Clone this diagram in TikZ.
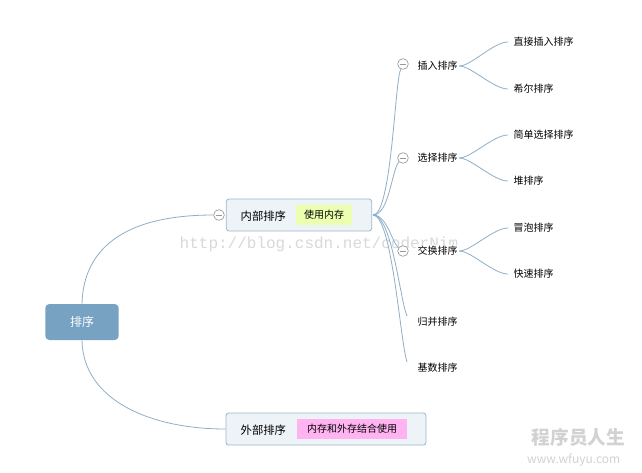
\documentclass[tikz,border=0pt]{standalone}
\usepackage{fontspec}
\setmainfont{Noto Sans CJK SC}
\newfontfamily\mono{Liberation Mono}
\begin{document}
\begin{tikzpicture}[x=0.75pt,y=-0.75pt,
  lnk/.style={draw=lnkc,line width=0.6pt},
  col/.style={circle,draw=gray!80,fill=white,inner sep=0pt,minimum size=8pt,line width=0.5pt},
  lbl/.style={font=\fontsize{7.5}{9}\selectfont,anchor=west,inner sep=1pt,fill=white},
  box/.style={draw=boxb,fill=boxf,rounded corners=2pt,line width=0.6pt},
  tag/.style={font=\fontsize{7.5}{9}\selectfont,inner sep=0pt,minimum height=15pt}]
\definecolor{lnkc}{HTML}{8EAFC8}
\definecolor{boxb}{HTML}{9AB8CC}
\definecolor{boxf}{HTML}{EEF3F7}
\definecolor{rootc}{HTML}{77A2C2}
\definecolor{tagg}{HTML}{EAFFB0}
\definecolor{tagp}{HTML}{FFB3F0}
\useasboundingbox[fill=white] (0,0) rectangle (642,472);
% watermarks
\node[anchor=west,text=gray!30,font=\mono\fontsize{12}{12}\selectfont] (wm) at (175,244) {http://blog.csdn.net/coderNim};
\node[anchor=east,text=gray!35,font=\bfseries\fontsize{14}{14}\selectfont] (wm2) at (630,437) {程序员人生};
\node[anchor=east,text=gray!35,font=\fontsize{9}{9}\selectfont] (wm3) at (625,460) {www.wfuyu.com};
% root
\node[fill=rootc,rounded corners=3pt,minimum width=55pt,minimum height=27pt,text=white,font=\fontsize{9}{10}\selectfont] (root) at (82,322) {排序};
% internal
\node[box,minimum width=109pt,minimum height=24pt] (in) at (299,215) {};
\node[font=\fontsize{8.5}{10}\selectfont,anchor=west] (inl) at (236,216) {内部排序};
\node[tag,fill=tagg,minimum width=42pt] (intag) at (324,215) {使用内存};
\node[box,minimum width=150pt,minimum height=24pt] (ex) at (326,429) {};
\node[font=\fontsize{8.5}{10}\selectfont,anchor=west] (exl) at (236,430) {外部排序};
\node[tag,fill=tagp,minimum width=83pt] (extag) at (352,429) {内存和外存结合使用};
\node[col] (c0) at (219,215) {};
\draw[lnk] (c0.west) .. controls (110,215) and (83,260) .. (root.north);
\draw[lnk] (root.south) .. controls (83,400) and (150,429) .. (ex.west);
\draw[gray!80,line width=0.5pt] ([xshift=-2.5pt]c0.center) -- ([xshift=2.5pt]c0.center);
% level 2
\coordinate (hub) at (373,215);
\draw[lnk] (hub) .. controls (392,215) and (395,75) .. (401,69);
\draw[lnk] (hub) .. controls (390,215) and (392,165) .. (400,161);
\draw[lnk] (hub) .. controls (388,215) and (392,245) .. (400,249);
\draw[lnk] (hub) .. controls (392,215) and (400,300) .. (407,316);
\draw[lnk] (hub) .. controls (392,215) and (400,340) .. (407,362);
\foreach \n/\y/\t in {a/66/插入排序,b/158/选择排序,c/251/交换排序,d/322/归并排序,e/368/基数排序}{
  \node[lbl] (\n) at (416,\y) {\t};
}
\foreach \y in {64,158,251}{
  \node[col] (k\y) at (403,\y) {};
  \draw[gray!80,line width=0.5pt] ([xshift=-2.5pt]k\y.center) -- ([xshift=2.5pt]k\y.center);
}
% level 3
\foreach \n/\y/\t in {p/42/直接插入排序,q/89/希尔排序,r/135/简单选择排序,s/181/堆排序,t/228/冒泡排序,u/274/快速排序}{
  \node[lbl] (\n) at (512,\y) {\t};
}
\foreach \s/\u/\v in {a/p/q,b/r/s,c/t/u}{
  \draw[lnk] (\s.east) .. controls +(12,0) and ([xshift=-14pt]\u.west) .. ([xshift=-3pt]\u.west);
  \draw[lnk] (\s.east) .. controls +(12,0) and ([xshift=-14pt]\v.west) .. ([xshift=-3pt]\v.west);
}
\end{tikzpicture}
\end{document}
